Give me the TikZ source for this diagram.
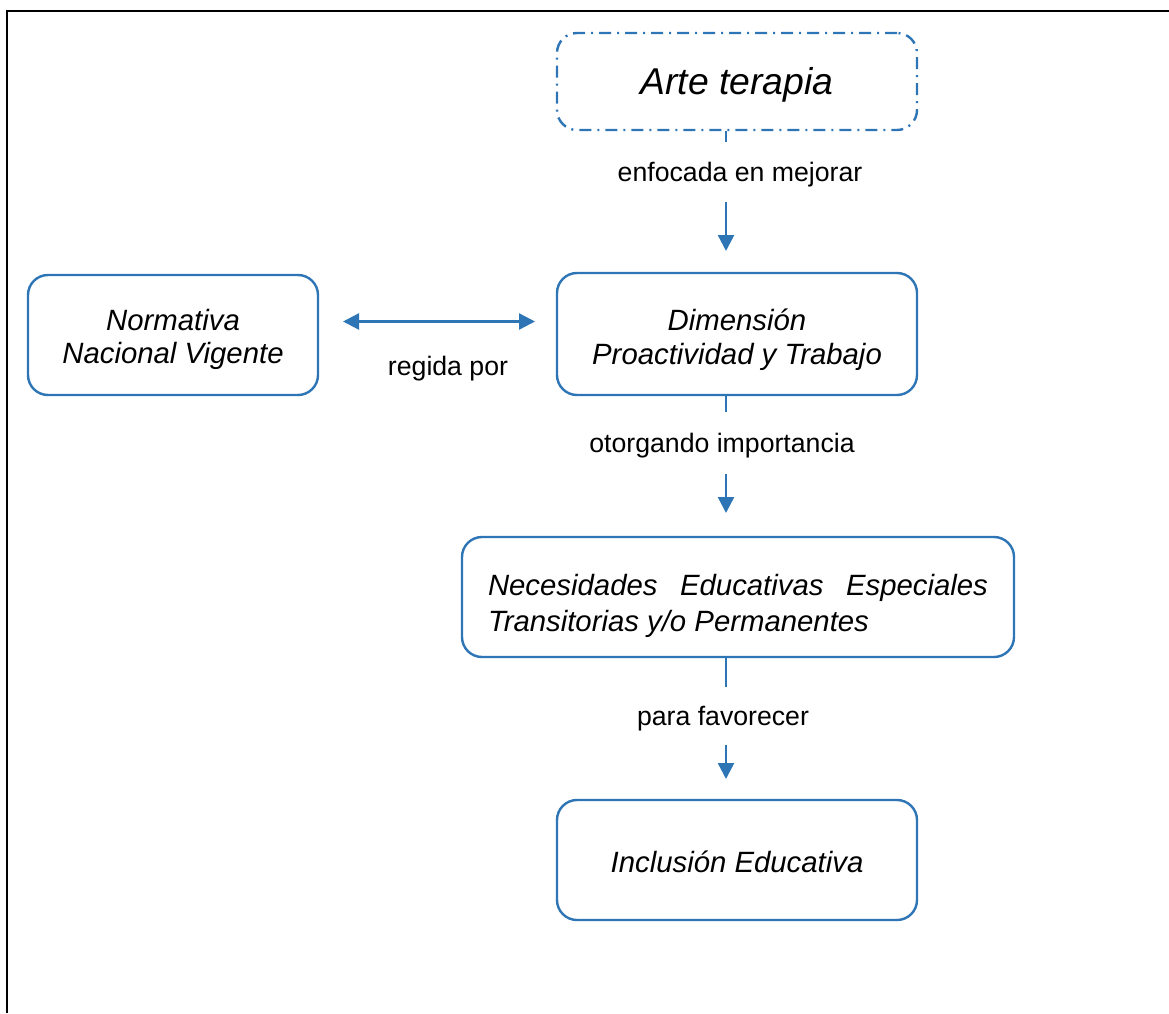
\documentclass[tikz,border=0pt]{standalone}
\usepackage{fontspec}
\setmainfont{Liberation Sans}
\usetikzlibrary{arrows.meta}
\definecolor{bl}{HTML}{2E75B6}
\newcommand\dnbox[2]{\raisebox{-#1}[\height][\depth]{#2}}
\tikzset{
  box/.style={draw=bl, line width=1.8pt, rounded corners=15pt, rectangle, align=center,
    font=\itshape, inner sep=0pt},
  lbl/.style={font=\fontsize{20}{24}\selectfont, inner sep=0pt},
  conn/.style={draw=bl, line width=1.8pt},
  arr/.style={draw=bl, line width=1.8pt, -{Triangle[width=12pt,length=12pt]}},
  darr/.style={draw=bl, line width=1.8pt, {Triangle[width=12pt,length=12pt]}-{Triangle[width=12pt,length=12pt]}},
  frame/.style={draw=black, line width=2.2pt}
}
\begin{document}
\begin{tikzpicture}[x=0.75pt,y=-0.75pt]
\useasboundingbox (0,0) rectangle (1169,1013);
% frame
\coordinate (fbl) at (7,1013);
\coordinate (ftl) at (7,11);
\coordinate (ftr) at (1169,11);
\draw[frame] (fbl) -- (ftl) -- (ftr);
% nodes
\node[box, dash pattern=on 9pt off 4.5pt on 1.5pt off 4.5pt, minimum width=270pt, minimum height=72.75pt] (art) at (737,81.5)
  {\fontsize{28}{32}\selectfont\dnbox{3pt}{\begin{tabular}{@{}c@{}}Arte terapia\end{tabular}}};
\node[box, minimum width=270pt, minimum height=91.5pt] (dim) at (737,334)
  {\fontsize{22}{26}\selectfont\dnbox{5pt}{\begin{tabular}{@{}c@{}}Dimensión\\Proactividad y Trabajo\end{tabular}}};
\node[box, minimum width=217.5pt, minimum height=90pt] (norm) at (173,335)
  {\fontsize{22}{25}\selectfont\dnbox{3.75pt}{\begin{tabular}{@{}c@{}}Normativa\\Nacional Vigente\end{tabular}}};
\node[box, minimum width=414pt, minimum height=90pt] (nee) at (738,597)
  {\fontsize{22}{27}\selectfont\dnbox{7pt}{\begin{tabular}{@{}l@{}}\makebox[375pt][s]{Necesidades Educativas Especiales}\\Transitorias y/o Permanentes\end{tabular}}};
\node[box, minimum width=270pt, minimum height=90pt] (inc) at (737,860)
  {\fontsize{22}{25}\selectfont\dnbox{4.5pt}{\begin{tabular}{@{}c@{}}Inclusión Educativa\end{tabular}}};
% x of vertical connectors
\coordinate (cx) at (726,0);
% art -> dim
\coordinate (c1) at (726,142);
\coordinate (a1s) at (726,202);
\coordinate (a1e) at (726,251);
\draw[conn] (art.south -| cx) -- (c1);
\node[lbl] (l1) at (740,175) {enfocada en mejorar};
\draw[arr] (a1s) -- (a1e);
% dim -> nee
\coordinate (c2) at (726,412);
\coordinate (a2s) at (726,474);
\coordinate (a2e) at (726,513);
\draw[conn] (dim.south -| cx) -- (c2);
\node[lbl] (l2) at (722,446) {otorgando importancia};
\draw[arr] (a2s) -- (a2e);
% nee -> inc
\coordinate (c3) at (726,687);
\coordinate (a3s) at (726,745);
\coordinate (a3e) at (726,779);
\draw[conn] (nee.south -| cx) -- (c3);
\node[lbl] (l3) at (723,719) {para favorecer};
\draw[arr] (a3s) -- (a3e);
% norm <-> dim
\coordinate (d1) at (343,321.5);
\coordinate (d2) at (535,321.5);
\draw[darr] (d1) -- (d2);
\node[lbl] (l4) at (448,369) {regida por};
\end{tikzpicture}
\end{document}
